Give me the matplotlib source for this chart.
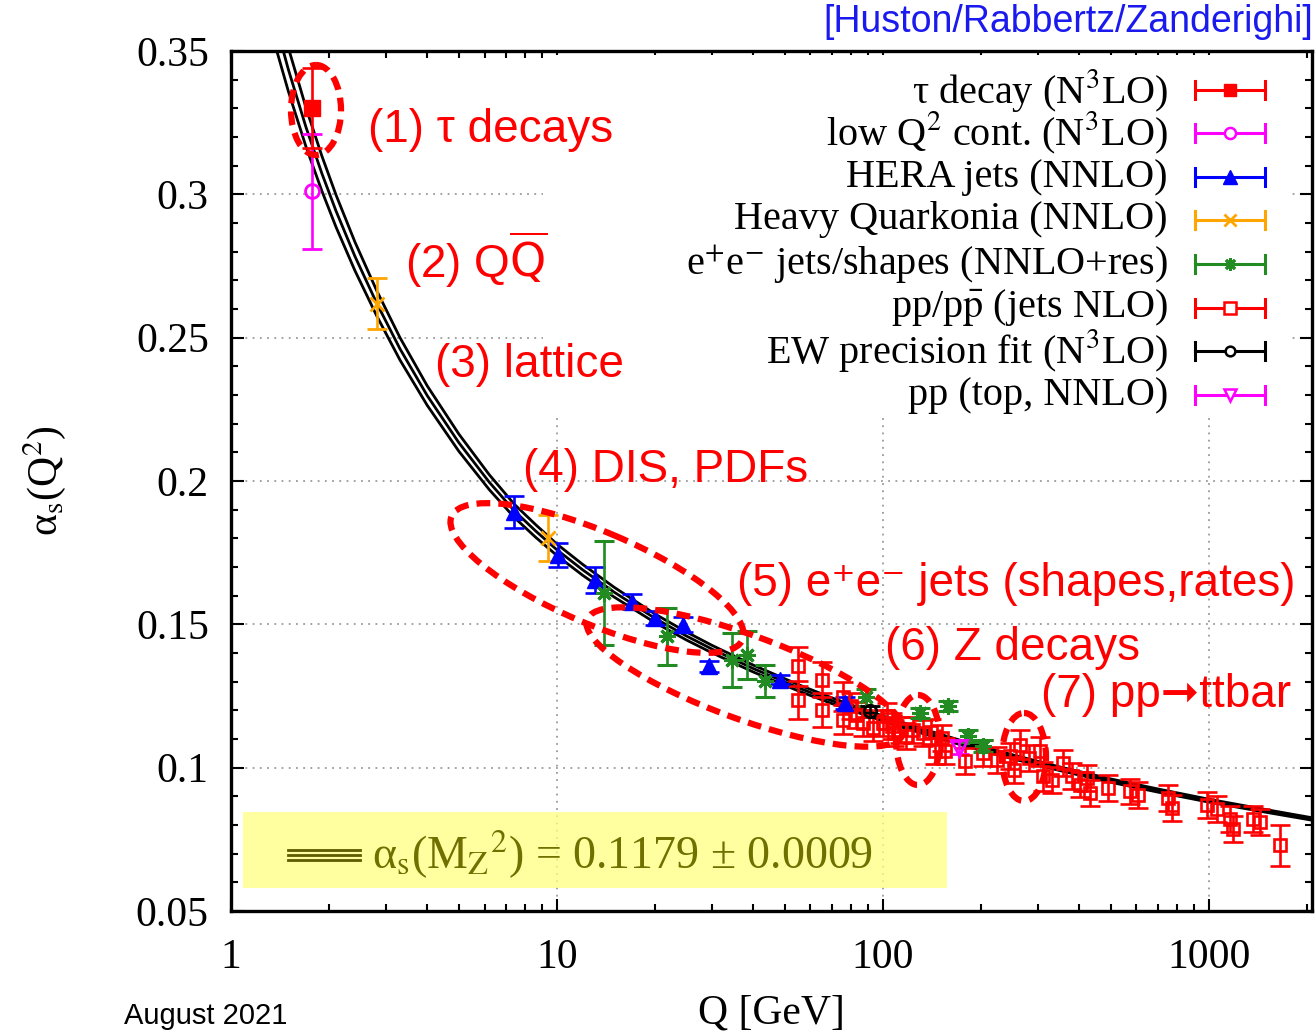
import matplotlib
matplotlib.use("Agg")
import matplotlib.pyplot as plt
import matplotlib.transforms as mtransforms
from matplotlib.patches import Ellipse, Rectangle
from matplotlib.lines import Line2D
from matplotlib.ticker import FixedLocator, LogLocator, NullFormatter, MultipleLocator

# ---------------- data ----------------
curve_q = [1.35, 1.5, 1.7, 1.9, 2.1, 2.4, 2.8, 3.3, 4.0, 5.0, 6.2, 7.4, 8.6, 10, 12, 15,
           20, 25, 30, 40, 55, 70, 91.19, 110, 140, 180, 250, 350, 500, 700, 1000, 1500, 2100]
curve_as = [0.3626, 0.3435, 0.3233, 0.3073, 0.2942, 0.2784, 0.2620, 0.2461, 0.2298, 0.2134,
            0.1996, 0.1896, 0.1826, 0.1760, 0.1690, 0.1612, 0.1521, 0.1459, 0.1413, 0.1346,
            0.1279, 0.1233, 0.1187, 0.1156, 0.1119, 0.1082, 0.1038, 0.0996, 0.0955, 0.0920,
            0.0885, 0.0849, 0.0820]
curve_err = [0.0085, 0.0076, 0.0068, 0.0061, 0.0056, 0.0050, 0.0044, 0.0039, 0.0034, 0.0030,
             0.0026, 0.0023, 0.0022, 0.0020, 0.0019, 0.0017, 0.0015, 0.0014, 0.0013, 0.0012,
             0.0011, 0.0010, 0.0009, 0.00086, 0.00081, 0.00076, 0.00070, 0.00064, 0.00059,
             0.00055, 0.00051, 0.00047, 0.00043]

tau_q, tau_as, tau_err = [1.777], [0.330], [0.014]
lowq_q, lowq_as, lowq_err = [1.77], [0.301], [0.020]
hera_q = [7.36, 10.1, 13.1, 17.0, 20.0, 24.4, 29.2, 48.4, 76.6]
hera_as = [0.1893, 0.1742, 0.1655, 0.1579, 0.1522, 0.1498, 0.1353, 0.1307, 0.1225]
hera_err = [0.0056, 0.0042, 0.0044, 0.0026, 0.0025, 0.0026, 0.0020, 0.0015, 0.0020]
quark_q, quark_as, quark_err = [2.8, 9.42], [0.2619, 0.180], [0.0090, 0.0080]
ee_q = [13.9, 21.8, 34.4, 38.3, 43.6, 89.0, 130, 159, 183, 203]
ee_as = [0.1609, 0.1458, 0.1376, 0.1394, 0.1301, 0.1245, 0.1190, 0.1214, 0.1110, 0.1076]
ee_err = [0.0180, 0.0100, 0.0093, 0.0084, 0.0056, 0.0030, 0.0017, 0.0017, 0.0020, 0.0020]
pp_q = [55, 55, 65, 65, 75.5, 75.5, 80, 83, 87, 93.5, 100, 103, 107, 108, 113, 118, 124, 133,
        141, 145, 152, 155, 179, 203, 224, 246, 252, 264, 280, 304, 311, 330, 358, 380, 403,
        423, 432, 492, 574, 608, 752, 770, 986, 1058, 1162, 1190, 1370, 1437, 1654]
pp_as = [0.1353, 0.1237, 0.1307, 0.1202, 0.1248, 0.1167, 0.1214, 0.1185, 0.1156, 0.1139,
         0.1156, 0.1179, 0.1144, 0.1121, 0.1132, 0.1110, 0.1132, 0.1121, 0.1126, 0.1057,
         0.1103, 0.1057, 0.1022, 0.1051, 0.1028, 0.1040, 0.0993, 0.1080, 0.1034, 0.1057,
         0.0970, 0.0958, 0.1016, 0.0970, 0.0941, 0.0964, 0.0912, 0.0929, 0.0917, 0.0906,
         0.0894, 0.0859, 0.0871, 0.0857, 0.0822, 0.0787, 0.0822, 0.0810, 0.0729]
pp_err = [0.0067, 0.0067, 0.0060, 0.0060, 0.0050, 0.0050, 0.0045, 0.0045, 0.0045, 0.0045,
          0.0045, 0.0045, 0.0045, 0.0045, 0.0045, 0.0045, 0.0045, 0.0045, 0.0045, 0.0045,
          0.0045, 0.0045, 0.0045, 0.0045, 0.0045, 0.0045, 0.0045, 0.0050, 0.0045, 0.0050,
          0.0050, 0.0045, 0.0045, 0.0045, 0.0045, 0.0045, 0.0045, 0.0045, 0.0045, 0.0045,
          0.0045, 0.0045, 0.0045, 0.0045, 0.0045, 0.0045, 0.0045, 0.0045, 0.0072]
ew_q, ew_as, ew_err = [91.19], [0.1196], [0.0018]
top_q, top_as, top_err = [171], [0.1069], [0.0023]

xticks = [1, 10, 100, 1000]
xticklabels = ["1", "10", "100", "1000"]
yticks = [0.05, 0.1, 0.15, 0.2, 0.25, 0.3, 0.35]
yticklabels = ["0.05", "0.1", "0.15", "0.2", "0.25", "0.3", "0.35"]

legend_labels = ["τ decay (N$^3$LO)", "low Q$^2$ cont. (N$^3$LO)", "HERA jets (NNLO)",
                 "Heavy Quarkonia (NNLO)", "e$^{+}$e$^{-}$ jets/shapes (NNLO+res)",
                 "pp/p$\\bar{\\rm p}$ (jets NLO)", "EW precision fit (N$^3$LO)", "pp (top, NNLO)"]

# ---------------- style ----------------
plt.rcParams['font.family'] = ['Liberation Serif', 'DejaVu Serif']
plt.rcParams['mathtext.fontset'] = 'stix'

W, H = 1316, 1032
fig = plt.figure(figsize=(W / 100, H / 100), dpi=100)
ax = fig.add_axes([231 / W, 1 - 911 / H, (1312 - 231) / W, (911 - 51) / H])
pix = mtransforms.Affine2D().scale(1, -1).translate(0, H)  # image pixel coords

RED, MAG, BLUE, ORANGE, GREEN = '#ff0000', '#ff00ff', '#0000ff', '#ffa500', '#228b22'
eb = dict(capsize=7, elinewidth=1.9, capthick=1.9, linestyle='none', zorder=4)

# theory band: three lines
lo = [a - e for a, e in zip(curve_as, curve_err)]
hi = [a + e for a, e in zip(curve_as, curve_err)]
for arr in (hi, curve_as, lo):
    ax.plot(curve_q, arr, color='black', lw=2.0, zorder=3, solid_capstyle='butt')

ax.errorbar(pp_q, pp_as, yerr=pp_err, marker='s', color=RED, ms=8.5, mfc='none', mew=1.9, **eb)
ax.errorbar(hera_q, hera_as, yerr=hera_err, marker='^', color=BLUE, ms=12, **eb)
ax.errorbar(ee_q, ee_as, yerr=ee_err, marker=(8, 2, 0), color=GREEN, ms=12, mew=2.2, **eb)
ax.errorbar(quark_q, quark_as, yerr=quark_err, marker='x', color=ORANGE, ms=10, mew=2, **eb)
ax.errorbar(lowq_q, lowq_as, yerr=lowq_err, marker='o', color=MAG, ms=10, mfc='none', mew=2, **eb)
ax.errorbar(tau_q, tau_as, yerr=tau_err, marker='s', color=RED, ms=11, **eb)
ax.errorbar(ew_q, ew_as, yerr=ew_err, marker='o', color='black', ms=9, mfc='none', mew=2, **eb)
ax.errorbar(top_q, top_as, yerr=top_err, marker='v', color=MAG, ms=11, mfc='none', mew=2, **eb)

ax.set_xscale('log')
ax.set_xlim(1, 2075)
ax.set_ylim(0.05, 0.35)
ax.xaxis.set_major_locator(FixedLocator(xticks))
ax.set_xticklabels(xticklabels)
ax.xaxis.set_minor_locator(LogLocator(base=10, subs=range(2, 10), numticks=20))
ax.xaxis.set_minor_formatter(NullFormatter())
ax.yaxis.set_major_locator(FixedLocator(yticks))
ax.set_yticklabels(yticklabels)
ax.yaxis.set_minor_locator(MultipleLocator(0.01))
ax.tick_params(which='both', direction='in', top=True, right=True, width=1.5, labelsize=30)
ax.tick_params(which='major', length=9)
ax.tick_params(which='minor', length=5)
ax.tick_params(axis='y', pad=16)
ax.tick_params(axis='x', pad=20)
for s in ax.spines.values():
    s.set_linewidth(2.4)
ax.grid(True, which='major', linestyle=(0, (1, 3)), color='#9a9a9a', lw=1.3)
ax.set_axisbelow(True)

ax.set_xlabel('Q [GeV]', fontsize=30)
ax.xaxis.set_label_coords((771 - 231) / 1081, -(994 - 911) / 860)
ax.set_ylabel('α$_{\\rm s}$(Q$^2$)', fontsize=30)
ax.yaxis.set_label_coords(-(231 - 68) / 1081, (911 - 481) / 860)

# white legend background hiding the grid
fig.add_artist(Rectangle((543, 55), 1292 - 543, 418 - 55, transform=pix,
                         facecolor='white', edgecolor='none', zorder=1))

# legend entries
leg_y = [90, 133, 177, 220, 264, 308, 351, 395]
leg_style = [dict(marker='s', color=RED, ms=9),
             dict(marker='o', color=MAG, ms=8, mfc='white', mew=1.8),
             dict(marker='^', color=BLUE, ms=10),
             dict(marker='x', color=ORANGE, ms=9, mew=2),
             dict(marker=(8, 2, 0), color=GREEN, ms=9, mew=2),
             dict(marker='s', color=RED, ms=8, mfc='white', mew=1.8),
             dict(marker='o', color='black', ms=7, mfc='white', mew=1.8),
             dict(marker='v', color=MAG, ms=9, mfc='white', mew=1.8)]
for y, lab, st in zip(leg_y, legend_labels, leg_style):
    fig.text(1168, y, lab, transform=pix, ha='right', va='center', fontsize=29, zorder=6)
    col = st['color']
    fig.add_artist(Line2D([1195, 1265], [y, y], transform=pix, color=col, lw=2.2, zorder=6))
    for xc in (1195, 1265):
        fig.add_artist(Line2D([xc, xc], [y - 9, y + 9], transform=pix, color=col, lw=2.2,
                              zorder=6))
    fig.add_artist(Line2D([1230], [y], transform=pix, linestyle='none', zorder=7, **st))

# yellow result box
fig.add_artist(Rectangle((243, 812), 947 - 243, 888 - 812, transform=pix,
                         facecolor='#ffff80', alpha=0.75, edgecolor='none', zorder=1.5))
for dy in (-5, 0, 5):
    fig.add_artist(Line2D([288, 360], [855 + dy, 855 + dy], transform=pix, color='#5c5c00',
                          lw=2, zorder=6))
fig.text(372, 855, 'α$_{\\rm s}$(M$_{\\rm Z}$$^{\\rm 2}$) = 0.1179 ± 0.0009', transform=pix,
         ha='left', va='center', fontsize=33, color='#707000', zorder=6)

# dashed ellipses
dash = dict(fill=False, edgecolor=RED, lw=4.5, linestyle=(0, (2.2, 1.3)), transform=pix,
            zorder=8)
for (cx, cy, w, h, ang) in [(316, 110, 50, 90, 0), (597, 578, 316, 92, 23),
                            (745, 677, 336, 84, 20), (918, 740, 44, 90, 0),
                            (1024, 757, 44, 88, 0)]:
    fig.add_artist(Ellipse((cx, cy), w, h, angle=ang, **dash))

# red annotations
sans = ['Liberation Sans', 'DejaVu Sans']
notes = [(368, 130, '(1) τ decays'), (405, 260, r'(2) Q$\overline{\rm Q}$'),
         (435, 365, '(3) lattice'), (523, 470, '(4) DIS, PDFs'),
         (737, 584, '(5) e⁺e⁻ jets (shapes,rates)'),
         (885, 648, '(6) Z decays'), (1041, 695, '(7) pp➞ttbar')]
for x, y, s in notes:
    fig.text(x, y, s, transform=pix, ha='left', va='center', fontsize=33, color=RED,
             family=sans, math_fontfamily='dejavusans', zorder=9)

fig.text(1313, 22, '[Huston/Rabbertz/Zanderighi]', transform=pix, ha='right', va='center',
         fontsize=27, color='#1a1aee', family=sans)
fig.text(124, 1016, 'August 2021', transform=pix, ha='left', va='center', fontsize=21,
         color='black', family=sans)

fig.savefig('out.png', dpi=100)
